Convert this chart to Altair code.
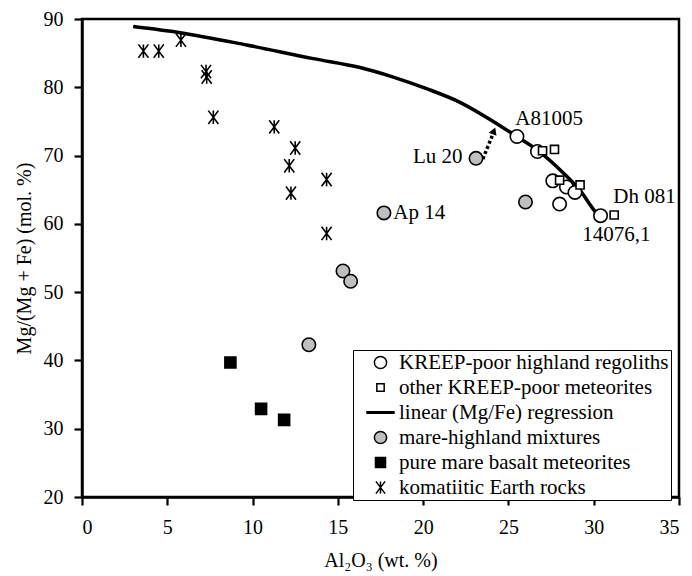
import altair as alt
import pandas as pd

# ---------------- data ----------------
cats = [
    "KREEP-poor highland regoliths",
    "other KREEP-poor meteorites",
    "linear (Mg/Fe) regression",
    "mare-highland mixtures",
    "pure mare basalt meteorites",
    "komatiitic Earth rocks",
]

# KREEP-poor highland regoliths (open circles)
reg_x = [25.5, 26.7, 27.6, 28.4, 28.9, 28.0, 30.4]
reg_y = [72.8, 70.6, 66.3, 65.4, 64.6, 62.9, 61.2]
# other KREEP-poor meteorites (small open squares)
met_x = [27.0, 27.7, 28.0, 29.2, 31.2]
met_y = [70.7, 70.9, 66.4, 65.7, 61.3]
# mare-highland mixtures (grey circles)
mix_x = [23.1, 17.7, 26.0, 15.3, 15.75, 13.3]
mix_y = [69.6, 61.6, 63.2, 53.1, 51.6, 42.3]
# pure mare basalt meteorites (black squares)
bas_x = [8.7, 10.5, 11.85]
bas_y = [39.7, 32.9, 31.3]
# komatiitic Earth rocks (asterisks)
kom_x = [3.6, 4.5, 5.8, 7.27, 7.31, 7.7, 11.27, 12.5, 12.15, 12.25, 14.34, 14.34]
kom_y = [85.3, 85.3, 86.9, 82.3, 81.5, 75.6, 74.2, 71.1, 68.5, 64.5, 66.5, 58.6]

# linear (Mg/Fe) regression curve
curve_x = [3.0, 5.75, 9.65, 13.56, 16.3, 18.25, 20.2, 22.16, 24.11, 25.3, 26.7, 28.2, 29.2, 30.2, 30.4]
curve_y = [88.9, 88.0, 86.2, 84.2, 82.9, 81.5, 79.8, 77.8, 75.0, 73.1, 70.8, 67.5, 64.9, 61.5, 61.1]

# dotted arrow from Lu 20 towards the curve
arrow_x = [23.5, 24.05]
arrow_y = [69.5, 72.9]
head_x = [24.15]
head_y = [73.6]

# annotations
lab_text = ["A81005", "Lu 20", "Ap 14", "Dh 081", "14076,1"]
lab_x = [25.4, 19.4, 18.25, 31.15, 29.33]
lab_y = [75.4, 69.75, 61.6, 64.0, 58.4]

# marker styling per legend entry (paths in the [-1, 1] symbol box)
shape_range = [
    "circle",
    "M-0.6,-0.6H0.6V0.6H-0.6Z",
    "M-2.2,-0.12H2.2V0.12H-2.2Z",
    "circle",
    "M-0.82,-0.82H0.82V0.82H-0.82Z",
    "M-0.75,-1L0.75,1M-0.75,1L0.75,-1M0,-1L0,1",
]
fill_range = ["white", "white", "black", "#bfbfbf", "black", "black"]
stroke_range = ["black", "black", "black", "black", "black", "black"]

# ---------------- tables ----------------
rows = []
for name, xs, ys in [
    (cats[3], mix_x, mix_y),
    (cats[4], bas_x, bas_y),
    (cats[5], kom_x, kom_y),
    (cats[0], reg_x, reg_y),
    (cats[1], met_x, met_y),
]:
    for a, b in zip(xs, ys):
        rows.append({"al": a, "mg": b, "group": name})
pts = pd.DataFrame(rows)
pts["order"] = range(len(pts))

curve = pd.DataFrame({"al": curve_x, "mg": curve_y})
arrow = pd.DataFrame({"al": arrow_x, "mg": arrow_y})
head = pd.DataFrame({"al": head_x, "mg": head_y})
labels = pd.DataFrame({"al": lab_x, "mg": lab_y, "t": lab_text})

FONT = "Liberation Serif"

xscale = alt.Scale(domain=[0, 35], nice=False, zero=False)
yscale = alt.Scale(domain=[20, 90], nice=False, zero=False)

xenc = alt.X(
    "al:Q",
    scale=xscale,
    axis=alt.Axis(
        title="Al₂O₃ (wt. %)",
        values=[0, 5, 10, 15, 20, 25, 30, 35],
        format="d",
    ),
)
yenc = alt.Y(
    "mg:Q",
    scale=yscale,
    axis=alt.Axis(
        title="Mg/(Mg + Fe) (mol. %)",
        values=[20, 30, 40, 50, 60, 70, 80, 90],
        format="d",
    ),
)

legend = alt.Legend(
    title=None,
    orient="none",
    legendX=271,
    legendY=331,
    fillColor="white",
    strokeColor="black",
    padding=2,
    rowPadding=3,
    symbolOffset=15,
    symbolSize=150,
    labelOffset=8,
    labelFont=FONT,
    labelFontSize=21,
    labelColor="black",
    labelLimit=500,
    symbolStrokeWidth=1.5,
)

line = alt.Chart(curve).mark_line(
    color="black", strokeWidth=3.5, interpolate="monotone"
).encode(x=xenc, y=yenc)

arrow_line = alt.Chart(arrow).mark_line(
    color="black", strokeWidth=3.5, strokeDash=[3, 2.5]
).encode(x="al:Q", y="mg:Q")

arrow_head = alt.Chart(head).mark_point(
    shape="triangle-up", filled=True, color="black", size=70, angle=21, opacity=1
).encode(x="al:Q", y="mg:Q")

points = alt.Chart(pts).mark_point(
    filled=True, strokeWidth=1.6, opacity=1, size=180
).encode(
    x="al:Q",
    y="mg:Q",
    shape=alt.Shape("group:N", scale=alt.Scale(domain=cats, range=shape_range), legend=legend),
    fill=alt.Fill("group:N", scale=alt.Scale(domain=cats, range=fill_range), legend=legend),
    stroke=alt.Stroke("group:N", scale=alt.Scale(domain=cats, range=stroke_range), legend=legend),
    order=alt.Order("order:Q"),
)

texts = alt.Chart(labels).mark_text(
    align="left", baseline="middle", font=FONT, fontSize=21, color="black"
).encode(x="al:Q", y="mg:Q", text="t:N")

chart = (
    alt.layer(line, arrow_line, arrow_head, points, texts)
    .properties(
        width=597,
        height=478,
        autosize=alt.AutoSizeParams(type="none"),
        padding={"left": 82, "top": 19, "right": 13, "bottom": 79},
    )
    .configure_view(stroke="black", strokeWidth=2.5)
    .configure_axis(
        grid=False,
        domainColor="black",
        domainWidth=2.5,
        tickColor="black",
        tickWidth=2.2,
        tickSize=8,
        labelFont=FONT,
        labelFontSize=20,
        labelColor="black",
        titleFont=FONT,
        titleFontSize=20,
        titleFontWeight="normal",
        titleColor="black",
    )
    .configure_axisX(labelPadding=12, titlePadding=13)
    .configure_axisY(labelPadding=11, titlePadding=9)
)

chart.save("out.html", embed_options={"renderer": "svg", "actions": False})
